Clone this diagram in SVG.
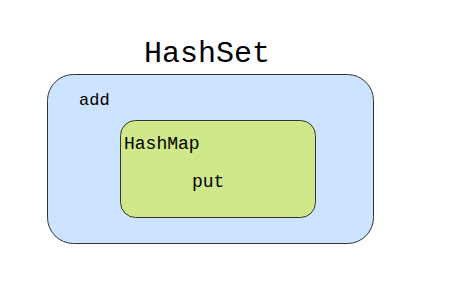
<svg xmlns="http://www.w3.org/2000/svg" width="449" height="286" viewBox="0 0 449 286">
<style>
text{font-family:"Liberation Mono","DejaVu Sans Mono",monospace;fill:#000}
.box{stroke:#333;stroke-width:1}
</style>
<rect width="449" height="286" fill="#fff"/>
<g id="hashset">
<text x="207" y="62" font-size="30" text-anchor="middle">HashSet</text>
<rect class="box" x="47.5" y="74.5" width="326" height="169" rx="26" fill="#cce4ff"/>
<text x="79" y="105" font-size="17">add</text>
</g>
<g id="hashmap">
<rect class="box" x="120.5" y="120.5" width="195" height="97" rx="15" fill="#cfe88a"/>
<text x="124" y="149" font-size="18">HashMap</text>
<text x="192" y="187" font-size="18">put</text>
</g>
<g id="connectors"></g>
</svg>
